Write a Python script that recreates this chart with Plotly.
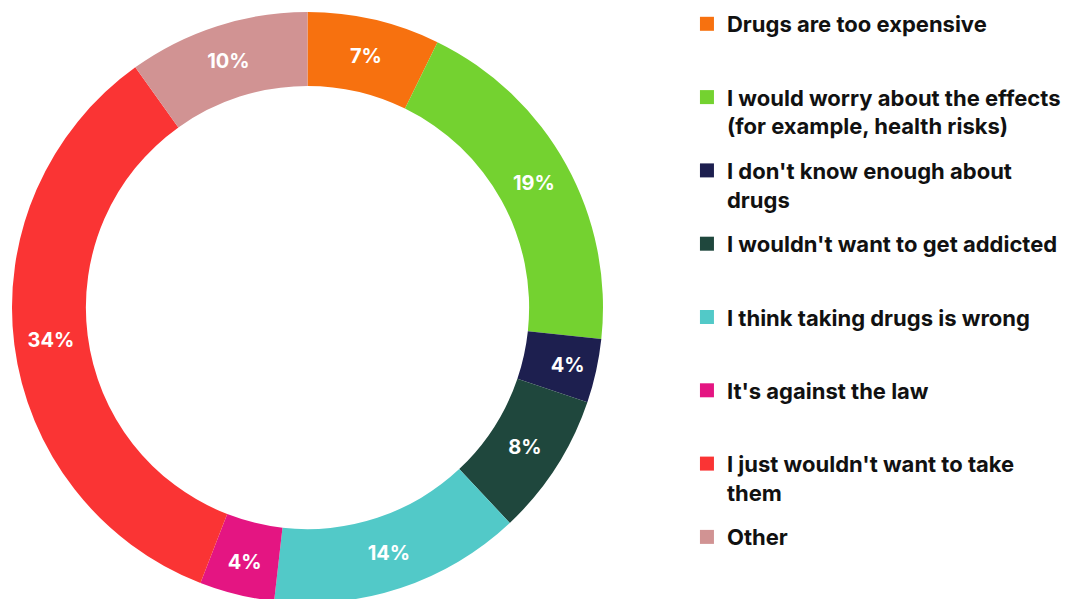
import plotly.graph_objects as go

categories = [
    "Drugs are too expensive",
    "I would worry about the effects<br>(for example, health risks)",
    "I don't know enough about<br>drugs",
    "I wouldn't want to get addicted",
    "I think taking drugs is wrong",
    "It's against the law",
    "I just wouldn't want to take<br>them",
    "Other",
]
values = [7.25, 19.45, 3.5, 7.8, 13.8, 4.1, 34.2, 9.9]
value_labels = ["7%", "19%", "4%", "8%", "14%", "4%", "34%", "10%"]
colors = ["#F7710F", "#74D230", "#1D1F4F", "#1F473D", "#52C9C8", "#E41582", "#FA3434", "#D19393"]

W, H = 1082, 599
FONT = "Inter"
fig = go.Figure()
fig.add_trace(go.Pie(
    labels=categories,
    values=values,
    text=value_labels,
    textinfo="text",
    textposition="inside",
    insidetextorientation="horizontal",
    insidetextfont=dict(family=FONT, size=20, color="white", weight="bold"),
    marker=dict(colors=colors, line=dict(width=0)),
    hole=0.75,
    sort=False,
    direction="clockwise",
    rotation=0,
    domain=dict(x=[4 / W, 595 / W], y=[4 / H, 595 / H]),
    showlegend=False,
))

n = len(categories)
for i, (cat, col) in enumerate(zip(categories, colors)):
    name = cat if ("<br>" in cat or i == n - 1) else cat + "<br> "
    fig.add_trace(go.Scatter(
        x=[None], y=[None], mode="markers", name=name,
        marker=dict(symbol="square", size=14, color=col),
        legendgroup=f"g{i}", showlegend=True,
    ))

fig.update_layout(
    width=W, height=H,
    margin=dict(l=0, r=0, t=0, b=0, autoexpand=False),
    paper_bgcolor="white", plot_bgcolor="white",
    xaxis=dict(visible=False), yaxis=dict(visible=False),
    legend=dict(
        x=0.6275, y=1 + 5 / H, xanchor="left", yanchor="top",
        font=dict(family=FONT, size=22, color="#111111", weight="bold"),
        valign="top", tracegroupgap=13.1, itemclick=False,
        maxheight=1.0,
    ),
    font=dict(family=FONT),
)

fig.write_html("out.html")
